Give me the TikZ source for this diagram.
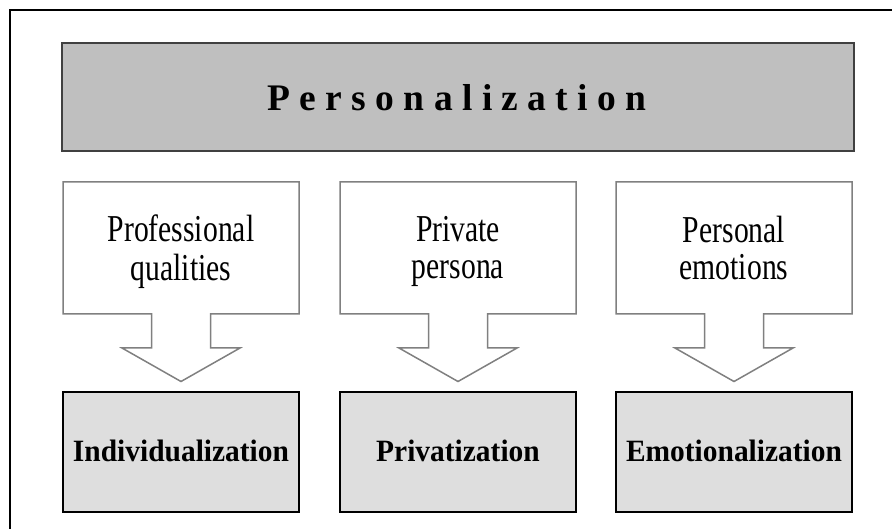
\documentclass[tikz,border=0pt]{standalone}
\usepackage{fontspec}
\setmainfont{Liberation Serif}
\newfontfamily\calloutfont[FakeStretch=0.78]{Liberation Serif}
\newfontfamily\resultfont[FakeStretch=0.95]{Liberation Serif}
\begin{document}
\begin{tikzpicture}[x=1pt,y=-1pt,
  frameline/.style={draw=black,line width=2pt},
  headbox/.style={draw=black!75,line width=2pt,fill=black!25,inner sep=0pt},
  headtext/.style={font=\bfseries\fontsize{37.5}{40}\selectfont,anchor=base,inner sep=0pt},
  arrowbox/.style={draw=black!50,line width=1.5pt,fill=white,line join=miter},
  callouttext/.style={font=\calloutfont\fontsize{38}{37}\selectfont,align=center,inner sep=0pt},
  resultbox/.style={draw=black,line width=1.8pt,fill=black!13,inner sep=0pt,
    minimum width=236pt,minimum height=120pt},
  resulttext/.style={font=\resultfont\bfseries\fontsize{31}{34}\selectfont,anchor=base,inner sep=0pt}]
\useasboundingbox (0,0) rectangle (892,529);

% outer frame, only its top and left edges fall inside the page
\draw[frameline] (10,560) -- (10,10) -- (920,10);

% title bar
\node[headbox,minimum width=792pt,minimum height=108pt,anchor=north west] (head) at (61,42) {};
\node[headtext] (title) at (457,111) {P e r s o n a l i z a t i o n};

% three block arrows with their captions, each pointing to a result box
\foreach \cx/\nm/\la/\lb/\res/\rtext in {
    181/prof/Professional/qualities/indiv/Individualization,
    458/priv/Private/persona/privat/Privatization,
    734/emo/Personal/emotions/emot/Emotionalization} {
  \coordinate (\nm-tip) at (\cx,381.5);
  \draw[arrowbox] ({\cx-118},182) -- ({\cx+118},182) -- ({\cx+118},314)
    -- ({\cx+29.5},314) -- ({\cx+29.5},348) -- ({\cx+59},348) -- (\nm-tip)
    -- ({\cx-59},348) -- ({\cx-29.5},348) -- ({\cx-29.5},314)
    -- ({\cx-118},314) -- cycle;
  \node[callouttext] (\nm) at (\cx,253) {\strut\la\\\strut\lb};
  \node[resultbox] (\res) at (\cx,452) {};
  \node[resulttext] (\res-label) at (\cx,461) {\rtext};
}
\end{tikzpicture}
\end{document}
